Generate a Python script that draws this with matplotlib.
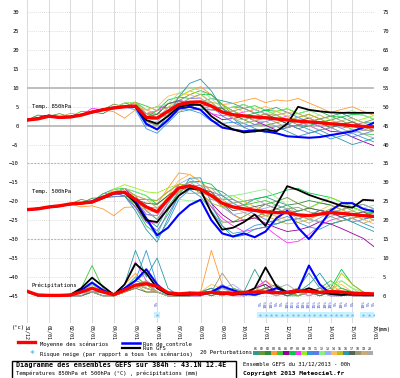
import matplotlib
matplotlib.use("Agg")
import matplotlib.pyplot as plt
from matplotlib.lines import Line2D
from matplotlib.patches import Rectangle
import numpy as np

plt.rcParams['font.family'] = ['DejaVu Sans Mono', 'DejaVu Sans']

# time axis : 12h steps, 0 -> 384h
hours = list(range(0, 385, 12))
day_labels = ['31/12', '01/01', '02/01', '03/01', '04/01', '05/01', '06/01', '07/01', '08/01',
              '09/01', '10/01', '11/01', '12/01', '13/01', '14/01', '15/01', '16/01']

# ---- Temp 850hPa (C)
mean_850 = [1.5, 1.8, 2.5, 2.2, 2.3, 2.8, 3.6, 4.2, 4.7, 5.0, 5.2, 2.2, 2.0, 3.8, 5.6, 6.2, 6.3,
            5.2, 3.6, 2.9, 2.6, 2.3, 2.1, 1.8, 1.5, 1.2, 1.0, 0.8, 0.5, 0.3, 0.0, -0.2, -0.3]
ctrl_850 = [1.4, 1.9, 2.6, 2.1, 2.4, 2.9, 3.5, 4.3, 4.8, 5.1, 5.0, 0.5, -1.0, 1.5, 4.5, 5.0, 4.2,
            1.5, -0.5, -1.0, -1.5, -1.2, -1.5, -2.0, -2.8, -3.0, -3.2, -3.0, -2.5, -2.0, -1.5, -0.5, 0.8]
gfs_850 = [1.6, 2.0, 2.7, 2.2, 2.3, 2.8, 3.7, 4.3, 4.6, 5.0, 5.0, 1.5, 0.5, 2.5, 5.0, 5.5, 5.5,
           2.5, 0.5, -1.0, -1.8, -1.5, -1.0, -1.5, 0.5, 5.0, 4.2, 3.8, 3.5, 3.4, 3.4, 3.4, 3.4]
# perturbations, read as departures from the mean
pert_850 = [
    [0,0,0,0,0,0,0,0,0,0,1,2,3,1,0,-1,0,2,3,3,2,1,2,3,2,1,0,1,2,3,2,1,1],
    [0,0,0,1,0,0,0,0,1,0,1,-1,-2,-1,1,2,3,3,2,0,-1,-2,-2,-1,0,1,2,1,0,-1,0,1,2],
    [0,1,0,0,0,0,0,-1,0,0,0,1,1,2,1,-1,-2,-1,1,2,3,2,1,0,-1,-2,-1,0,1,2,1,0,-1],
    [0,0,0,0,1,0,0,0,-1,-3,-1,2,1,0,2,3,4,3,2,3,4,5,4,5,5,6,5,4,3,4,5,4,3],
    [0,0,0,0,0,1,0,0,0,0,1,3,2,1,-1,-2,-2,0,1,2,2,3,2,1,0,-1,-1,0,1,0,-1,-2,-2],
    [0,0,0,0,0,0,0,0,0,1,0,-2,-3,-2,-1,0,-1,-2,-2,-1,0,-1,-2,-3,-2,-1,0,-1,-2,-2,-3,-4,-5],
    [0,0,0,0,0,0,0,0,0,0,1,0,2,3,2,1,2,3,2,1,0,1,2,2,3,2,3,3,2,2,3,3,2],
    [0,0,0,0,0,0,1,0,0,0,0,1,2,2,1,0,-1,-2,-1,0,1,2,1,0,1,0,-1,-2,-1,0,1,0,-1],
    [0,0,0,0,0,0,0,0,0,1,1,-1,-1,1,2,3,2,1,0,-1,-2,-1,0,2,3,2,1,0,-1,0,1,2,3],
    [0,0,0,0,0,0,0,0,0,0,-1,-3,-4,-3,-2,-2,-3,-4,-3,-2,-2,-3,-4,-3,-2,-1,-2,-3,-4,-3,-2,-3,-4],
    [0,0,0,0,0,0,0,0,0,0,0,1,0,-1,0,1,1,0,-1,-2,-3,-2,-1,0,-1,-2,-3,-2,-1,-2,-3,-2,-1],
    [0,0,0,0,0,0,0,0,0,1,1,2,3,2,3,4,3,2,1,2,3,2,1,2,1,2,3,2,1,3,4,3,2],
    [0,0,0,0,0,0,0,0,0,0,-1,-2,-1,0,1,0,-1,-1,0,1,0,-1,0,1,2,1,0,-1,0,-1,-2,-1,0],
    [0,0,0,0,0,0,0,0,0,0,0,2,3,4,3,2,1,0,1,2,1,2,3,2,1,0,1,2,1,0,1,0,1],
    [0,0,0,0,0,0,0,0,0,0,1,1,0,-1,-2,-1,0,1,2,1,0,-1,0,1,0,1,2,1,0,1,0,-1,0],
    [0,0,0,0,0,0,0,0,0,0,0,-2,-3,-1,2,5,6,4,1,-1,-3,-4,-3,-2,-3,-4,-3,-2,-3,-4,-5,-4,-3],
    [0,0,0,0,0,0,0,0,0,0,0,0,1,2,1,0,-1,0,1,0,-1,0,1,0,-1,0,1,0,-1,0,1,0,0],
    [0,0,0,0,0,0,0,0,0,0,0,-1,-2,-1,0,-1,-2,-1,0,1,2,1,0,-1,-2,-1,0,1,2,1,0,-1,-1],
    [0,0,0,0,0,0,0,0,0,0,1,1,2,1,0,1,2,1,0,-1,-1,0,1,1,2,2,1,0,0,1,2,1,0],
    [0,0,0,0,0,0,0,0,0,0,0,-1,0,1,0,-1,0,1,0,-1,-2,-1,-1,-2,-1,0,-1,-2,-1,-2,-1,-2,-3],
]

# ---- Temp 500hPa (C)
mean_500 = [-22.2, -22.0, -21.5, -21.2, -20.7, -20.5, -20.2, -19.0, -17.8, -17.6, -19.5, -21.5, -22.8,
            -19.5, -16.5, -15.9, -16.8, -18.5, -20.5, -21.5, -22.0, -22.4, -22.8, -23.0, -23.0, -23.6,
            -23.8, -23.4, -23.0, -23.2, -23.5, -23.8, -24.0]
ctrl_500 = [-22.3, -22.0, -21.6, -21.2, -20.8, -20.5, -20.0, -18.8, -17.9, -17.8, -20.0, -24.5, -29.0,
            -27.0, -23.5, -21.0, -19.6, -25.0, -28.5, -29.3, -28.5, -29.5, -28.0, -24.5, -22.5, -27.0,
            -30.0, -26.5, -22.5, -20.5, -20.5, -22.0, -22.7]
gfs_500 = [-22.2, -21.9, -21.5, -21.3, -20.7, -20.6, -20.3, -19.2, -18.0, -17.5, -20.5, -25.0, -25.5,
           -22.0, -18.5, -16.5, -17.0, -23.0, -27.5, -27.0, -25.5, -23.5, -26.5, -21.0, -16.0, -17.0,
           -18.3, -19.3, -20.2, -21.2, -21.7, -19.6, -19.8]
pert_500 = [
    [0,0,0,0,0,0,0,1,1,0,-1,-3,-4,-2,-1,0,1,2,3,2,1,3,4,3,2,1,2,3,2,1,2,3,2],
    [0,0,0,0,0,1,0,0,-1,-1,0,2,3,2,1,0,-1,-3,-5,-4,-2,0,2,3,4,3,2,1,0,1,2,1,0],
    [0,0,0,0,0,0,1,0,0,1,1,-1,-2,-1,0,1,2,1,0,-2,-3,-2,0,1,2,3,4,3,2,1,0,-1,0],
    [0,0,0,0,0,-1,-1,-3,-6,-4,-2,1,2,3,4,3,2,1,-1,-2,-3,-2,-1,0,1,0,-1,-2,-3,-2,-1,0,1],
    [0,0,0,0,0,0,0,1,0,0,-2,-5,-6,-3,-1,0,1,0,-1,0,1,2,3,2,1,0,-1,-2,-3,-2,-1,0,1],
    [0,0,0,0,0,0,0,0,0,1,0,-2,-1,0,1,0,-1,-2,-3,-4,-3,-2,-3,-4,-5,-4,-3,-2,-3,-4,-5,-6,-8],
    [0,0,0,0,0,0,0,0,1,1,2,3,2,1,0,1,2,3,2,1,2,3,4,5,6,7,6,5,4,3,2,1,1],
    [0,0,0,0,0,0,0,0,0,-1,-2,-4,-3,-1,1,0,-1,-3,-4,-5,-6,-5,-4,-6,-8,-7,-5,-3,-2,-1,0,1,2],
    [0,0,0,0,0,0,0,0,1,2,3,4,5,3,1,0,-1,0,2,3,2,1,0,-1,0,1,2,3,4,3,2,1,0],
    [0,0,0,0,0,0,0,0,0,0,-1,-3,-7,-6,-3,-1,-2,-4,-6,-7,-6,-4,-3,-2,-1,-2,-3,-4,-3,-2,-1,-2,-3],
    [0,0,0,0,0,0,0,0,-1,-1,-2,-4,-5,-4,-2,-1,0,1,2,1,0,-1,-2,-3,-2,-1,0,1,0,-1,-2,-1,0],
    [0,0,0,0,0,0,0,0,0,1,2,3,1,-1,-3,-4,-3,-1,1,3,4,5,6,4,2,0,-1,-2,-1,0,1,2,3],
    [0,0,0,0,0,0,0,0,0,0,0,-2,-1,0,1,2,1,0,-1,-2,-1,0,1,2,1,0,-1,-2,-1,0,1,0,-1],
    [0,0,0,0,0,0,0,0,1,0,-1,-1,0,1,2,3,2,1,0,1,2,1,0,-1,-2,-1,0,1,2,1,0,-1,-2],
    [0,0,0,0,0,0,0,0,0,0,1,2,3,2,1,0,-1,-2,-1,0,1,0,-1,-2,-3,-2,-1,0,1,2,1,0,-1],
    [0,0,0,0,0,0,0,0,0,-1,-3,-6,-8,-5,-2,2,3,-2,-6,-8,-7,-5,-4,-3,-2,-1,0,1,0,-1,-2,-3,-4],
    [0,0,0,0,0,0,0,0,0,0,0,1,2,1,0,-1,0,1,0,-1,0,1,2,1,0,1,2,1,0,-1,0,1,0],
    [0,0,0,0,0,0,0,0,0,0,-1,0,1,0,-1,-2,-1,0,1,2,1,0,-1,0,1,2,1,0,-1,-2,-1,0,1],
    [0,0,0,0,0,0,0,0,0,1,1,2,1,0,-1,0,1,2,1,0,-1,-2,-1,0,1,0,-1,0,1,0,-1,-2,-1],
    [0,0,0,0,0,0,0,0,0,0,0,-1,-2,-1,0,1,0,-1,0,1,2,3,2,1,0,-1,-2,-1,0,1,2,3,2],
]

# ---- Precipitations (mm), drawn on the -45 baseline
mean_prec = [1.2, 0.2, 0.1, 0.1, 0.2, 1.0, 2.0, 1.0, 0.3, 1.5, 2.8, 3.2, 2.5, 0.8, 0.5, 0.7, 0.6,
             0.9, 0.7, 0.6, 0.9, 1.0, 1.0, 0.8, 0.9, 1.3, 1.2, 0.9, 1.1, 1.0, 0.7, 0.6, 0.5]
ctrl_prec = [1.2, 0.2, 0.1, 0.1, 0.2, 1.5, 3.5, 1.5, 0.3, 2.0, 4.0, 7.0, 3.0, 0.5, 0.3, 0.5, 0.3,
             1.0, 2.5, 1.5, 0.5, 0.3, 1.0, 2.0, 1.0, 1.5, 8.0, 3.0, 0.5, 0.3, 0.3, 0.2, 0.2]
gfs_prec = [1.2, 0.2, 0.1, 0.1, 0.3, 2.0, 4.8, 2.5, 0.3, 3.0, 8.5, 6.0, 2.0, 0.5, 0.3, 0.3, 0.5,
            0.8, 0.5, 0.3, 0.6, 2.0, 7.5, 2.5, 0.8, 1.0, 2.0, 1.0, 0.5, 0.3, 0.5, 0.6, 0.4]
pert_prec = [
    [1,0,0,0,0,1,2,1,0,1,4,3,1,0,0,0,1,1,2,1,1,7,2,1,1,2,6,2,1,0,1,0,0],
    [1,0,0,0,0,1,3,1,0,2,3,2,1,0,0,1,0,1,1,0,1,2,3,1,0,1,1,0,1,2,1,0,0],
    [1,0,0,0,0,0,1,0,0,1,2,4,2,0,0,0,1,2,1,1,0,1,2,3,1,0,1,2,1,1,0,0,0],
    [1,0,0,0,0,1,1,0,0,3,6,2,1,0,0,0,1,12,3,1,0,1,4,2,1,0,1,1,3,1,0,0,0],
    [1,0,0,0,0,2,8,2,0,2,5,3,1,0,0,0,1,0,1,1,0,1,2,1,1,0,1,2,4,2,1,0,0],
    [1,0,0,0,0,1,2,1,0,1,3,2,1,0,0,0,0,1,0,1,0,2,3,1,0,1,2,1,0,0,1,0,0],
    [1,0,0,0,0,0,1,1,0,2,4,6,2,0,0,0,1,1,0,2,1,1,2,1,0,0,1,1,2,7,3,1,0],
    [1,0,0,0,0,1,2,1,0,3,9,4,1,0,0,0,0,1,1,0,0,2,4,1,0,1,0,1,0,1,0,0,0],
    [1,0,0,0,0,1,1,0,0,1,2,3,1,0,0,0,1,0,1,0,1,0,1,2,1,0,2,1,1,4,2,0,0],
    [1,0,0,0,0,1,2,1,0,2,4,12,3,0,0,0,1,1,2,1,0,1,1,0,1,2,1,0,1,1,0,0,0],
    [1,0,0,0,0,0,1,1,0,1,3,2,1,0,0,0,0,1,3,1,0,1,1,2,1,0,1,2,1,0,1,0,0],
    [1,0,0,0,0,1,3,1,0,2,3,2,1,0,0,0,1,0,1,0,1,2,1,1,0,1,2,1,3,4,2,1,0],
    [1,0,0,0,0,0,1,0,0,1,4,6,2,0,0,0,0,1,2,3,1,0,1,1,0,1,2,1,0,0,1,0,0],
    [1,0,0,0,0,1,2,1,0,1,2,3,1,0,0,1,1,3,2,1,0,1,2,1,0,1,1,0,2,3,1,0,0],
    [1,0,0,0,0,1,1,1,0,2,3,1,1,0,0,0,1,1,0,1,1,0,1,2,1,0,1,1,1,6,3,1,0],
    [1,0,0,0,0,1,2,1,0,3,12,5,10,2,0,0,1,2,1,0,1,2,1,1,0,1,3,6,2,0,1,0,0],
    [1,0,0,0,0,0,1,0,0,1,2,1,1,0,0,0,1,0,1,1,0,1,2,1,0,1,1,0,1,1,0,1,0],
    [1,0,0,0,0,1,1,1,0,1,2,3,1,0,0,1,0,1,6,2,1,0,1,2,1,0,1,2,1,0,1,0,0],
    [1,0,0,0,0,0,2,1,0,1,3,2,1,0,0,0,1,1,1,0,1,2,1,0,1,2,1,1,0,1,0,0,0],
    [1,0,0,0,0,1,1,0,0,2,3,4,1,0,0,0,0,1,2,1,0,1,1,2,3,1,0,1,0,1,0,0,0],
]

member_colors = ['#33998a', '#669933', '#2e8b3e', '#ff9933', '#33cc33', '#990099', '#00cc44',
                 '#ff33ff', '#99ee22', '#3399dd', '#6677ee', '#88ee88', '#99aaff', '#ffbb55',
                 '#bbbb22', '#2a9aa8', '#556655', '#999977', '#ccaa77', '#aaaaaa']
member_names = ['%02d' % (i + 1) for i in range(20)]

# snow risk (% of scenarios)
snow_hours = [144, 258, 264, 270, 276, 282, 288, 294, 300, 306, 312, 318, 324, 330, 336, 342,
              348, 354, 360, 372, 378, 384]
snow_pct = [5, 5, 10, 10, 5, 5, 10, 15, 15, 10, 10, 15, 15, 10, 10, 5, 10, 5, 5, 10, 5, 5]

fig = plt.figure(figsize=(4.0, 3.78), dpi=100)
ax = fig.add_axes([27 / 400, 1 - 323 / 378, 347 / 400, 323 / 378])
ax.set_xlim(0, 384)
ax.set_ylim(-52.2, 33.25)

# grid
for d in range(0, 385, 24):
    ax.axvline(d, color='#d4d4d4', lw=0.6, zorder=0)
for v in range(-45, 31, 5):
    if v in (0, 10):
        ax.axhline(v, color='#b4b4b4', lw=1.2, zorder=0)
    elif v in (-10, -30):
        ax.axhline(v, color='#b8b8b8', lw=0.8, ls=(0, (2, 1)), zorder=0)
    else:
        ax.axhline(v, color='#d4d4d4', lw=0.6, ls=(0, (1, 1.5)), zorder=0)

h = np.array(hours)
for i in range(20):
    c = member_colors[i]
    ax.plot(h, np.array(mean_850) + np.array(pert_850[i]), color=c, lw=0.6, zorder=2)
    ax.plot(h, np.array(mean_500) + np.array(pert_500[i]), color=c, lw=0.6, zorder=2)
    ax.plot(h, -45 + np.array(pert_prec[i]), color=c, lw=0.6, zorder=2)

for ctrl, gfs, mean, base in [(ctrl_850, gfs_850, mean_850, 0), (ctrl_500, gfs_500, mean_500, 0),
                              (ctrl_prec, gfs_prec, mean_prec, -45)]:
    ax.plot(h, base + np.array(ctrl), color='#0000ff', lw=1.5, zorder=3)
    ax.plot(h, base + np.array(gfs), color='black', lw=1.3, zorder=4)
    ax.plot(h, base + np.array(mean), color='#ff0000', lw=2.4, zorder=5)

ax.text(5, 5, 'Temp. 850hPa', fontsize=4, va='center', zorder=6)
ax.text(5, -17.5, 'Temp. 500hPa', fontsize=4, va='center', zorder=6)
ax.text(5, -42.2, 'Précipitations', fontsize=4, va='center', zorder=6)

# snow risk band
ax.axhspan(-51.0, -49.2, xmin=255 / 384, xmax=362 / 384, color='#c8f0ff', zorder=1, lw=0)
ax.axhspan(-51.0, -49.2, xmin=369 / 384, xmax=1, color='#c8f0ff', zorder=1, lw=0)
ax.axhspan(-51.0, -49.2, xmin=141 / 384, xmax=147 / 384, color='#c8f0ff', zorder=1, lw=0)
ax.scatter(snow_hours, [-50.1] * len(snow_hours), marker='*', s=7, color='#66bbee', zorder=6, lw=0)
for sh, sp in zip(snow_hours, snow_pct):
    ax.text(sh, -46.2, '%d%%' % sp, fontsize=3.2, color='#3344cc', rotation=90,
            ha='center', va='top', zorder=6)

ax.set_xticks(range(0, 385, 24))
ax.set_xticklabels(day_labels, rotation=270, fontsize=3.6)
ax.set_yticks(range(-45, 31, 5))
ax.tick_params(axis='y', length=0, labelsize=4, pad=6)
ax.tick_params(axis='x', length=0, labelsize=3.6, pad=1.5)
for s in ax.spines.values():
    s.set_visible(False)

sec = ax.secondary_yaxis('right', functions=(lambda v: v + 45, lambda v: v - 45))
sec.set_yticks(range(0, 76, 5))
sec.tick_params(length=0, labelsize=4, pad=6)
sec.spines['right'].set_visible(False)

def fx(px):
    return px / 400

def fy(py):
    return 1 - py / 378

fig.text(fx(12), fy(328), '(°c)', fontsize=4, va='center')
fig.text(fx(378), fy(330), '(mm)', fontsize=4, va='center')

# legend
fig.add_artist(Line2D([fx(18), fx(35)], [fy(342), fy(342)], color='#ff0000', lw=2.4))
fig.text(fx(40), fy(344), 'Moyenne des scénarios', fontsize=4, va='center')
fig.add_artist(Line2D([fx(122), fx(140)], [fy(342.5), fy(342.5)], color='#0000ff', lw=1.8))
fig.add_artist(Line2D([fx(122), fx(140)], [fy(347.5), fy(347.5)], color='black', lw=1.6))
fig.text(fx(143), fy(344), 'Run de controle', fontsize=4, va='center')
fig.text(fx(143), fy(349), 'Run GFS', fontsize=4, va='center')
fig.text(fx(32), fy(354.5), '*', fontsize=6, color='#66bbee', ha='center', va='center', fontweight='bold')
fig.text(fx(40), fy(354.5), 'Risque neige (par rapport a tous les scénarios)', fontsize=4, va='center')
fig.text(fx(200), fy(352), '20 Perturbations', fontsize=4, va='center')
for i in range(20):
    x0 = 253 + i * 6
    fig.add_artist(Rectangle((fx(x0), fy(355)), fx(5.5), 4 / 378, color=member_colors[i], lw=0))
    fig.text(fx(x0 + 2.8), fy(349.5), member_names[i], fontsize=2.3, ha='center', va='center')

fig.add_artist(Rectangle((fx(12), fy(379)), fx(224), 18 / 378, fill=False, edgecolor='black', lw=1.0))
fig.text(fx(16), fy(365), 'Diagramme des ensembles GEFS sur 384h : 43.1N 12.4E', fontsize=4.9,
         fontweight='bold', va='center')
fig.text(fx(16), fy(373.5), 'Températures 850hPa et 500hPa (°C) , précipitations (mm)', fontsize=4,
         va='center')
fig.text(fx(243), fy(363.5), 'Ensemble GEFS du 31/12/2013 - 00h', fontsize=4, va='center')
fig.text(fx(243), fy(373.5), 'Copyright 2013 Meteociel.fr', fontsize=4.5, fontweight='bold', va='center')

fig.savefig('out.png', dpi=100)
